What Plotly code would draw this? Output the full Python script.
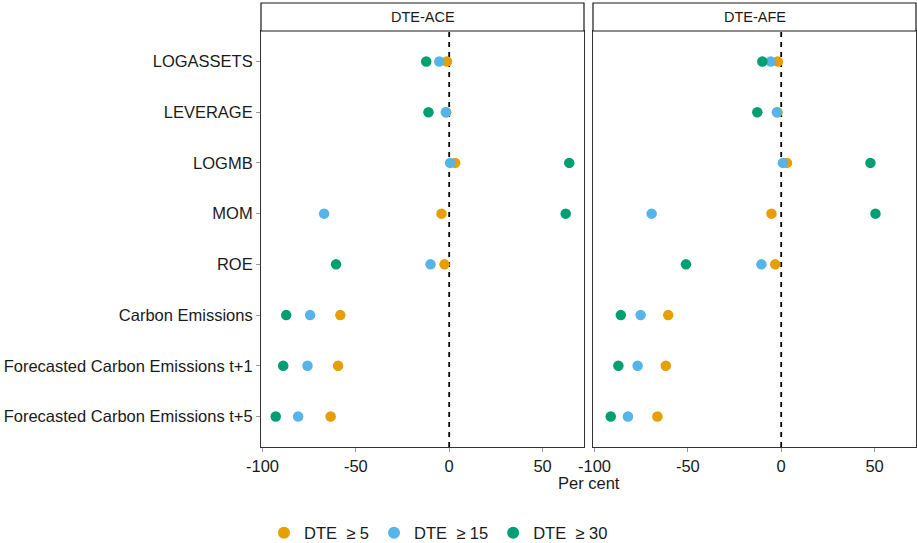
import plotly.graph_objects as go

# Variables (top to bottom)
variables = [
    "LOGASSETS", "LEVERAGE", "LOGMB", "MOM", "ROE",
    "Carbon Emissions", "Forecasted Carbon Emissions t+1",
    "Forecasted Carbon Emissions t+5",
]
panels = ["DTE-ACE", "DTE-AFE"]
series_names = ["DTE  ≥ 5", "DTE  ≥ 15", "DTE  ≥ 30"]
series_colors = ["#E69F00", "#56B4E9", "#009E73"]

# Per cent changes, panel DTE-ACE
ace_dte5 = [-1.2, -1.6, 3.2, -4.1, -2.5, -58.3, -59.5, -63.5]
ace_dte15 = [-5.3, -1.8, 0.5, -67.0, -10.0, -74.5, -75.9, -80.9]
ace_dte30 = [-12.3, -11.1, 64.3, 62.4, -60.6, -87.3, -88.9, -92.9]

# Per cent changes, panel DTE-AFE
afe_dte5 = [-1.8, -2.0, 3.1, -5.2, -3.2, -60.5, -61.8, -66.3]
afe_dte15 = [-5.6, -2.3, 0.9, -69.4, -10.6, -75.3, -76.9, -82.1]
afe_dte30 = [-10.1, -12.8, 47.8, 50.5, -51.0, -85.9, -87.2, -91.3]

x_tickvals = [-100, -50, 0, 50]
x_ticktext = ["-100", "-50", "0", "50"]

panel_data = [
    [ace_dte5, ace_dte15, ace_dte30],
    [afe_dte5, afe_dte15, afe_dte30],
]

W, H = 917, 543
FONT = "Liberation Sans, Arial, sans-serif"

# pixel layout of the two panels
px_left = [(261, 584), (593, 916)]
px_top, px_bottom = 31, 447
strip_top = 3

def fx(px):
    return px / W

def fy(py):
    return (H - py) / H

fig = go.Figure()

for p, series in enumerate(panel_data):
    xa = "x" if p == 0 else "x2"
    ya = "y" if p == 0 else "y2"
    for s, vals in enumerate(series):
        fig.add_trace(go.Scatter(
            x=vals, y=variables, mode="markers",
            marker=dict(color=series_colors[s], size=10.5, line=dict(width=0)),
            name=series_names[s], legendgroup=series_names[s],
            showlegend=(p == 0), xaxis=xa, yaxis=ya,
        ))

x_range = [-100.8, 72.2]
y_range = [len(variables) - 0.4, -0.6]

axis_common = dict(
    showgrid=False, zeroline=False, showline=True, mirror=True,
    linecolor="#333333", linewidth=1, ticklen=4, automargin=False,
    tickcolor="#999999", tickfont=dict(family=FONT, size=16.5, color="#1a1a1a"),
)

fig.update_layout(
    width=W, height=H,
    margin=dict(l=0, r=0, t=0, b=0, autoexpand=False),
    paper_bgcolor="white", plot_bgcolor="white",
    font=dict(family=FONT, size=16.5, color="#1a1a1a"),
    xaxis=dict(domain=[fx(px_left[0][0]), fx(px_left[0][1])], range=x_range,
               tickvals=x_tickvals, ticktext=x_ticktext, ticks="outside",
               anchor="y", **axis_common),
    xaxis2=dict(domain=[fx(px_left[1][0]), fx(px_left[1][1])], range=x_range,
                tickvals=x_tickvals, ticktext=x_ticktext, ticks="outside",
                anchor="y2", **axis_common),
    yaxis=dict(domain=[fy(px_bottom), fy(px_top)], range=y_range,
               categoryorder="array", categoryarray=variables, ticks="outside",
               anchor="x", **axis_common),
    yaxis2=dict(domain=[fy(px_bottom), fy(px_top)], range=y_range,
                categoryorder="array", categoryarray=variables,
                showticklabels=False, ticks="", anchor="x2", **axis_common),
    legend=dict(orientation="h", x=fx(264), xanchor="left",
                y=fy(533), yanchor="middle",
                font=dict(family=FONT, size=16.5, color="#1a1a1a"),
                itemsizing="constant"),
    showlegend=True,
)

shapes = []
annotations = []
for p, title in enumerate(panels):
    x0, x1 = px_left[p]
    # strip box
    shapes.append(dict(type="rect", xref="paper", yref="paper",
                       x0=fx(x0), x1=fx(x1), y0=fy(px_top), y1=fy(strip_top),
                       fillcolor="white", line=dict(color="#1a1a1a", width=1.2)))
    annotations.append(dict(text=title, xref="paper", yref="paper",
                            x=fx((x0 + x1) / 2), y=fy((px_top + strip_top) / 2),
                            xanchor="center", yanchor="middle", showarrow=False,
                            font=dict(family=FONT, size=14.5, color="#1a1a1a")))
    # dashed reference line at zero
    xr = "x" if p == 0 else "x2"
    yr = "y domain" if p == 0 else "y2 domain"
    shapes.append(dict(type="line", xref=xr, yref=yr, x0=0, x1=0, y0=0, y1=1,
                       line=dict(color="black", width=1.8, dash="5px,5px"),
                       layer="below"))

annotations.append(dict(text="Per cent", xref="paper", yref="paper",
                        x=fx(589), y=fy(483), xanchor="center", yanchor="middle",
                        showarrow=False,
                        font=dict(family=FONT, size=16.5, color="#1a1a1a")))

fig.update_layout(shapes=shapes, annotations=annotations)

fig.write_html("out.html")
